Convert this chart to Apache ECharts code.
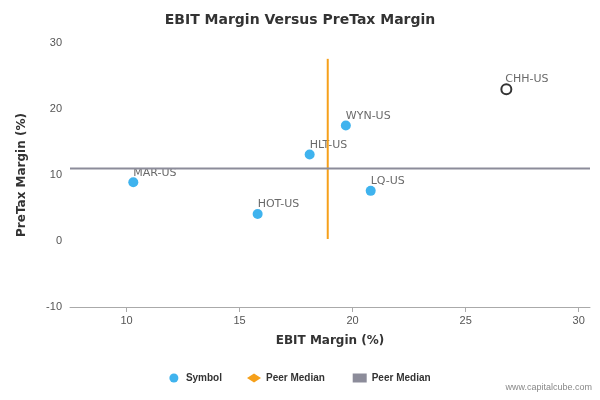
<!DOCTYPE html>
<html><head><meta charset="utf-8">
<script src="https://cdn.jsdelivr.net/npm/echarts@6/dist/echarts.min.js"></script>
<style>html,body{margin:0;padding:0;background:#fff}#c{width:600px;height:400px}</style>
</head><body><div id="c"></div>
<script>
const names = ['MAR-US','HOT-US','HLT-US','WYN-US','LQ-US'];
const ebit = [10.3, 15.8, 18.1, 19.7, 20.8];
const pretax = [8.9, 4.1, 13.1, 17.5, 7.6];
const subject = {name:'CHH-US', x:26.8, y:23.0};
const peerMedianX = 18.9, peerVRange = [0.3, 27.6];
const peerMedianY = 11.0, xRange = [7.5, 30.5];
const chart = echarts.init(document.getElementById('c'));
const lbl = {show:true, position:[5,-10], formatter:p=>p.data[2], color:'#444', fontSize:11, fontFamily:'DejaVu Sans'};
chart.setOption({
  animation:false,
  title:{text:'EBIT Margin Versus PreTax Margin', left:'center', top:8, textStyle:{fontSize:14, fontWeight:'bold', color:'#333', fontFamily:'DejaVu Sans'}},
  grid:{left:70, right:10, top:43, bottom:93},
  xAxis:{type:'value', min:xRange[0], max:xRange[1], interval:5, name:'EBIT Margin (%)', nameLocation:'middle', nameGap:28,
    nameTextStyle:{fontWeight:'bold', fontSize:12, color:'#333', fontFamily:'DejaVu Sans'},
    axisLabel:{color:'#555', fontSize:11, customValues:[10,15,20,25,30]},
    axisTick:{show:true, customValues:[10,15,20,25,30], lineStyle:{color:'#aaa'}},
    axisLine:{onZero:false, lineStyle:{color:'#aaa'}}, splitLine:{show:false}},
  yAxis:{type:'value', min:-10, max:30, interval:10, name:'PreTax Margin (%)', nameLocation:'middle', nameGap:42,
    nameTextStyle:{fontWeight:'bold', fontSize:12, color:'#333', fontFamily:'DejaVu Sans'},
    axisLabel:{color:'#555', fontSize:11}, axisLine:{show:false}, axisTick:{show:false}, splitLine:{show:false}},
  legend:{bottom:12, left:'center', itemGap:25, itemWidth:14, itemHeight:9, textStyle:{fontSize:10, fontWeight:'bold', color:'#333'},
    data:[{name:'Symbol', icon:'circle'},{name:'Peer Median ', icon:'diamond'},{name:'Peer Median', icon:'rect'}]},
  graphic:[{type:'text', right:8, bottom:8, style:{text:'www.capitalcube.com', fill:'#888', fontSize:9}}],
  series:[
    {name:'Symbol', type:'scatter', symbolSize:10, itemStyle:{color:'#0fa0ea'},
      data:ebit.map((v,i)=>[v, pretax[i], names[i]]), label:lbl},
    {name:'Symbol', type:'scatter', symbolSize:10, itemStyle:{color:'#fff', borderColor:'#000', borderWidth:2},
      data:[[subject.x, subject.y, subject.name]], label:lbl},
    {name:'Peer Median ', type:'line', symbol:'none', itemStyle:{color:'#f6a01a'}, lineStyle:{color:'#f6a01a', width:2},
      data:[[peerMedianX, peerVRange[0]],[peerMedianX, peerVRange[1]]]},
    {name:'Peer Median', type:'line', symbol:'none', itemStyle:{color:'#8c8c9a'}, lineStyle:{color:'#8c8c9a', width:2},
      data:[[xRange[0], peerMedianY],[xRange[1], peerMedianY]]}
  ]
});
</script></body></html>
